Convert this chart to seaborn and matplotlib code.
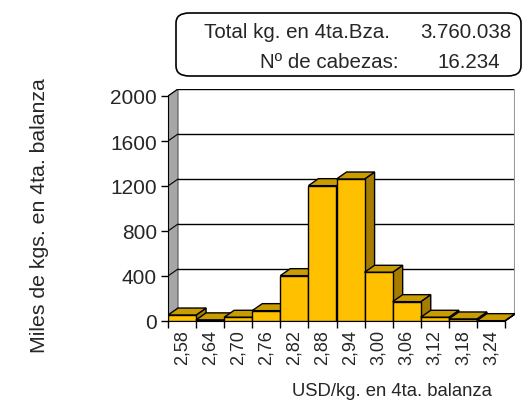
import matplotlib
matplotlib.use('Agg')
import matplotlib.pyplot as plt
import seaborn as sns
import pandas as pd
from matplotlib.patches import Polygon, FancyBboxPatch

# data (miles de kg por rango de precio)
precios = ['2,58', '2,64', '2,70', '2,76', '2,82', '2,88', '2,94', '3,00', '3,06', '3,12', '3,18', '3,24']
miles_kg = [53, 10, 33, 92, 403, 1203, 1262, 433, 172, 33, 18, 3]
yticks = [0, 400, 800, 1200, 1600, 2000]

df = pd.DataFrame({'precio': precios, 'kg': miles_kg})

sns.set_style('white')
plt.rcParams['font.family'] = ['Liberation Sans', 'DejaVu Sans']

fig = plt.figure(figsize=(5.3, 4.02), dpi=100)
W, H = 530, 402
# pixel geometry of the fake 3d box
x0_px, x1_px, y0_px, ytop_px = 168, 505, 322, 97
dxp, dyp = 10, 7
ax = fig.add_axes([x0_px / W, (H - y0_px) / H, (x1_px + dxp - x0_px) / W, (y0_px - ytop_px + dyp) / H])

n = len(precios)
dx = dxp * n / (x1_px - x0_px)
dy = dyp * 2000 / (y0_px - ytop_px)

# front faces
sns.barplot(data=df, x='precio', y='kg', ax=ax, color='#FFC000', width=1.0,
            edgecolor='black', linewidth=1, saturation=1)
bars = list(ax.patches)

ax.set_xlim(-0.5, n - 0.5 + dx)
ax.set_ylim(0, 2000 + dy)

# walls
ax.add_patch(Polygon([(-0.5, 0), (-0.5 + dx, dy), (-0.5 + dx, 2000 + dy), (-0.5, 2000)],
                     closed=True, facecolor='#A6A6A6', edgecolor='#555555', lw=0.8, zorder=0.5))
for t in yticks[1:]:
    ax.plot([-0.5 + dx, n - 0.5 + dx], [t + dy, t + dy], color='black', lw=1, zorder=0.6)
    ax.plot([-0.5, -0.5 + dx], [t, t + dy], color='black', lw=0.8, zorder=0.6)
ax.plot([n - 0.5 + dx, n - 0.5 + dx], [dy, 2000 + dy], color='#999999', lw=1.5, zorder=0.6)
ax.plot([n - 0.5, n - 0.5 + dx], [0, dy], color='black', lw=1, zorder=0.6)

# top and side faces
for i, p in enumerate(bars):
    xa, xb = p.get_x(), p.get_x() + p.get_width()
    h = p.get_height()
    z = 3 + i * 0.1
    ax.add_patch(Polygon([(xb, 0), (xb + dx, dy), (xb + dx, h + dy), (xb, h)],
                         closed=True, facecolor='#A57C00', edgecolor='black', lw=1, zorder=z))
    ax.add_patch(Polygon([(xa, h), (xb, h), (xb + dx, h + dy), (xa + dx, h + dy)],
                         closed=True, facecolor='#C99C00', edgecolor='black', lw=1, zorder=z))
    p.set_zorder(z + 0.05)

# axes
for s in ['top', 'right']:
    ax.spines[s].set_visible(False)
ax.spines['left'].set_bounds(0, 2000)
ax.spines['bottom'].set_bounds(-0.5, n - 0.5)
ax.spines['left'].set_color('black')
ax.spines['bottom'].set_color('black')
ax.set_yticks(yticks)
ax.set_yticklabels([str(t) for t in yticks], fontsize=15)
ax.set_xticks([i - 0.5 for i in range(n + 1)])
ax.set_xticklabels([])
ax.set_xticks(range(n), minor=True)
ax.set_xticklabels(precios, minor=True, rotation=90, fontsize=13)
ax.tick_params(axis='y', direction='out', length=5, width=1, color='black', left=True, pad=3)
ax.tick_params(axis='x', which='major', direction='out', length=5, width=1, color='black', bottom=True)
ax.tick_params(axis='x', which='minor', length=0, pad=6)
ax.set_xlabel('')
ax.set_ylabel('')

fig.text(40 / W, 1 - 216 / H, 'Miles de kgs. en 4ta. balanza', rotation=90,
         ha='center', va='center', fontsize=15.3)
fig.text(392 / W, 1 - 392 / H, 'USD/kg. en 4ta. balanza', ha='center', va='center', fontsize=13.3)

# summary box
box = FancyBboxPatch((176 / W, 1 - 77 / H), (521 - 176) / W, (77 - 14) / H,
                     boxstyle='round,pad=0,rounding_size=0.025', transform=fig.transFigure,
                     facecolor='white', edgecolor='black', lw=1.2)
fig.patches.append(box)
fig.text(390 / W, 1 - 33 / H, 'Total kg. en 4ta.Bza.', ha='right', va='center', fontsize=14.8)
fig.text(466 / W, 1 - 33 / H, '3.760.038', ha='center', va='center', fontsize=14.8)
fig.text(398 / W, 1 - 63 / H, 'Nº de cabezas:', ha='right', va='center', fontsize=14.8)
fig.text(469 / W, 1 - 63 / H, '16.234', ha='center', va='center', fontsize=14.8)

fig.savefig('out.png', dpi=100)
